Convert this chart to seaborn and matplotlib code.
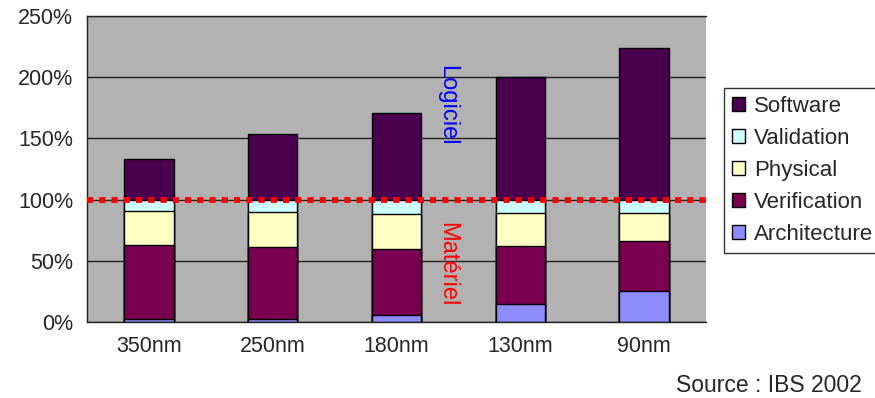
import numpy as np
import pandas as pd
import matplotlib
matplotlib.use("Agg")
import matplotlib.pyplot as plt
import matplotlib.patches as mpatches
import seaborn as sns

# data (% of effort per technology node)
nodes = ["350nm", "250nm", "180nm", "130nm", "90nm"]
architecture = [2.5, 2.5, 6, 15, 25]
verification = [60.5, 59, 54, 47, 41]
physical = [28, 28, 28, 27, 23]
validation = [9, 10.5, 12, 11, 11]
software = [33, 54, 71, 100, 124]

series = ["Architecture", "Verification", "Physical", "Validation", "Software"]
colors = {
    "Architecture": "#8C8CFF",
    "Verification": "#7A0050",
    "Physical": "#FFFFC4",
    "Validation": "#CCFFFF",
    "Software": "#4A004F",
}

df = pd.DataFrame({
    "node": nodes,
    "Architecture": architecture,
    "Verification": verification,
    "Physical": physical,
    "Validation": validation,
    "Software": software,
})
# cumulative tops for stacking
cum = df[series].cumsum(axis=1)
cum["node"] = df["node"]

sns.set_style("white")
plt.rcParams["font.family"] = ["Liberation Sans", "DejaVu Sans"]

fig = plt.figure(figsize=(8.75, 3.98), dpi=100)
ax = fig.add_axes([87 / 875, 1 - 322 / 398, 619 / 875, 306 / 398])
ax.set_facecolor("#B2B2B2")

# draw tallest layer first so the lower ones sit on top of it
for name in reversed(series):
    sns.barplot(data=cum, x="node", y=name, color=colors[name], width=0.4,
                edgecolor="black", linewidth=1, saturation=1, ax=ax, zorder=2)

ax.set_ylim(0, 250)
ax.set_xlim(-0.5, 4.5)
ax.set_yticks([0, 50, 100, 150, 200, 250])
ax.set_yticklabels([f"{v}%" for v in [0, 50, 100, 150, 200, 250]], fontsize=15.5)
ax.set_xticklabels(nodes, fontsize=15.5)
ax.set_xlabel("")
ax.set_ylabel("")
ax.yaxis.grid(True, color="#222222", linewidth=1, zorder=1)
ax.set_axisbelow(True)

ax.tick_params(axis="x", which="major", length=0, pad=10)
ax.set_xticks(np.arange(-0.5, 5, 1), minor=True)
ax.tick_params(axis="x", which="minor", length=6, width=1, color="black", direction="out")
ax.tick_params(axis="y", length=6, width=1, color="black", direction="out", pad=4)

for s in ["right"]:
    ax.spines[s].set_visible(False)
for s in ["left", "bottom", "top"]:
    ax.spines[s].set_color("#222222")
    ax.spines[s].set_linewidth(1)

# hardware / software boundary
ax.axhline(100, color="#FF0000", linewidth=4.2, linestyle=(0, (1.05, 1.05)), zorder=5)
ax.text(2.41, 177, "Logiciel", color="#0000FF", fontsize=17, rotation=-90,
        ha="center", va="center", zorder=6)
ax.text(2.41, 47, "Matériel", color="#FF0000", fontsize=17, rotation=-90,
        ha="center", va="center", zorder=6)

handles = [mpatches.Patch(facecolor=colors[n], edgecolor="black", linewidth=1, label=n)
           for n in reversed(series)]
leg = fig.legend(handles=handles, loc="upper left", bbox_to_anchor=(724 / 875, 1 - 88 / 398),
                 fontsize=16, frameon=True, fancybox=False, borderaxespad=0,
                 handlelength=0.6, handleheight=0.6, handletextpad=0.4,
                 labelspacing=0.5, borderpad=0.35)
leg.get_frame().set_edgecolor("black")
leg.get_frame().set_linewidth(1)

fig.text(862 / 875, 1 - 392 / 398, "Source : IBS 2002", fontsize=16.5, ha="right", va="baseline")

fig.savefig("out.png", dpi=100)
